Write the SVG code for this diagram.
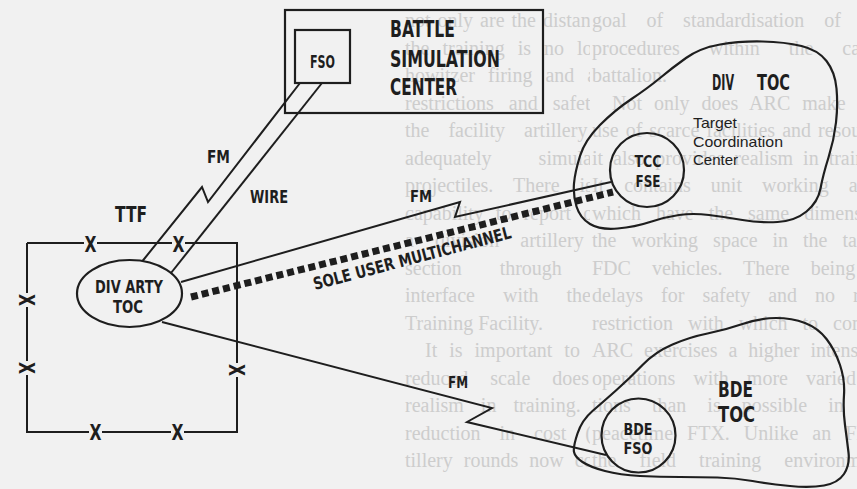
<svg xmlns="http://www.w3.org/2000/svg" width="857" height="489" viewBox="0 0 857 489">
<style>
.bg{fill:#f1f1f1}
.g{font-family:"Liberation Serif","DejaVu Serif",serif;font-size:20px;fill:#cdcdcd}
.ln{fill:none;stroke:#1e1e1e;stroke-width:2;stroke-linejoin:miter}
.sh{fill:none;stroke:#1e1e1e;stroke-width:2.2}
.lb{font-family:"Liberation Sans Narrow","DejaVu Sans Condensed","Liberation Sans",Arial,sans-serif;font-weight:bold;fill:#1e1e1e}
.rg{font-family:"Liberation Sans",Arial,sans-serif;fill:#1e1e1e}
.m{text-anchor:middle}
</style>
<defs>
<clipPath id="cM"><rect x="395" y="0" width="195" height="489"/></clipPath>
</defs>
<rect class="bg" x="0" y="0" width="857" height="489"/>

<g id="page-text-a" class="g" clip-path="url(#cM)">
<text x="405" y="27" word-spacing="2">not only are the distances reduced, but</text>
<text x="405" y="54.5" word-spacing="8">the training is no longer tied to</text>
<text x="405" y="82" word-spacing="8">howitzer firing and attendant range</text>
<text x="405" y="109.5" word-spacing="10">restrictions and safety delays. In</text>
<text x="405" y="137" word-spacing="14">the facility artillery simulators</text>
<text x="405" y="164.5" word-spacing="42">adequately simulate enemy</text>
<text x="405" y="192" word-spacing="15">projectiles. There is also the</text>
<text x="405" y="219.5" word-spacing="7">capability to report observations to</text>
<text x="405" y="247" word-spacing="16">a division artillery counterfire</text>
<text x="405" y="274.5" word-spacing="33">section through a radar</text>
<text x="405" y="302" word-spacing="23">interface with the TACFIRE</text>
<text x="405" y="329.5">Training Facility.</text>
<text x="425" y="357" word-spacing="7">It is important to note that the</text>
<text x="405" y="384.5" word-spacing="17">reduced scale does not reduce</text>
<text x="405" y="412" word-spacing="12">realism in training. There is a</text>
<text x="405" y="439.5" word-spacing="14">reduction in cost (full-scale ar-</text>
<text x="405" y="467" word-spacing="6">tillery rounds now cost about $1,000</text>
</g>

<g id="page-text-b" class="g">
<text x="592" y="27" word-spacing="15">goal of standardisation of FDC</text>
<text x="592" y="54.5" word-spacing="24">procedures within the cannon</text>
<text x="592" y="82">battalion.</text>
<text x="612" y="109.5" word-spacing="7">Not only does ARC make the best</text>
<text x="592" y="137" word-spacing="2">use of scarce facilities and resources,</text>
<text x="592" y="164.5" word-spacing="5">it also provides realism in training.</text>
<text x="592" y="192" word-spacing="15">It contains unit working areas</text>
<text x="592" y="219.5" word-spacing="10">which have the same dimensions as</text>
<text x="592" y="247" word-spacing="10">the working space in the tactical</text>
<text x="592" y="274.5" word-spacing="16">FDC vehicles. There being no</text>
<text x="592" y="302" word-spacing="13">delays for safety and no range</text>
<text x="592" y="329.5" word-spacing="10">restriction with which to contend,</text>
<text x="592" y="357" word-spacing="6">ARC exercises a higher intensity of</text>
<text x="592" y="384.5" word-spacing="13">operations with more varied mun-</text>
<text x="592" y="412" word-spacing="16">tions than is possible in a</text>
<text x="592" y="439.5" word-spacing="9">peacetime FTX. Unlike an FDC in</text>
<text x="592" y="467" word-spacing="18">the field training environment,</text>
</g>

<g id="connectors">
<polyline class="ln" points="300,83 208,202 202,187 142.5,261"/>
<line class="ln" x1="322" y1="83" x2="171" y2="273"/>
<polyline class="ln" points="181,282 460,202 455,217 611,182"/>
<line x1="191" y1="297" x2="613" y2="192" stroke="#1e1e1e" stroke-width="7" stroke-dasharray="7 4"/>
<polyline class="ln" points="162,322 492,408 467,422 606,455"/>
<text class="lb" x="207" y="163" font-size="17" textLength="23" lengthAdjust="spacingAndGlyphs">FM</text>
<text class="lb" x="250" y="203" font-size="17" textLength="38" lengthAdjust="spacingAndGlyphs">WIRE</text>
<text class="lb" x="410" y="202" font-size="15" textLength="22" lengthAdjust="spacingAndGlyphs">FM</text>
<text class="lb" transform="translate(315,290) rotate(-14.8)" font-size="17" textLength="204" lengthAdjust="spacingAndGlyphs">SOLE USER MULTICHANNEL</text>
<text class="lb" x="448" y="388" font-size="15" textLength="20" lengthAdjust="spacingAndGlyphs">FM</text>
</g>

<g id="battle-simulation-center">
<rect class="sh" x="285" y="10" width="258" height="103" stroke-width="2.5"/>
<text class="lb" x="390" y="37" font-size="23" textLength="65" lengthAdjust="spacingAndGlyphs">BATTLE</text>
<text class="lb" x="390" y="67" font-size="23" textLength="110" lengthAdjust="spacingAndGlyphs">SIMULATION</text>
<text class="lb" x="390" y="95" font-size="23" textLength="67" lengthAdjust="spacingAndGlyphs">CENTER</text>
</g>

<g id="fso">
<rect class="sh" x="295" y="30" width="55" height="53"/>
<text class="lb m" x="322.5" y="68" font-size="17" textLength="25" lengthAdjust="spacingAndGlyphs">FSO</text>
</g>

<g id="ttf">
<text class="lb" x="115" y="222" font-size="21" textLength="32" lengthAdjust="spacingAndGlyphs">TTF</text>
<path class="ln" d="M27,243 H84 M97,243 H172 M185,243 H237 V363 M237,377 V432 H184 M171,432 H102 M89,432 H27 V375 M27,361 V307 M27,293 V243"/>
<g class="lb" font-size="22">
<text class="m" x="90.5" y="252" textLength="12" lengthAdjust="spacingAndGlyphs">X</text>
<text class="m" x="178.5" y="252" textLength="12" lengthAdjust="spacingAndGlyphs">X</text>
<text class="m" x="95.5" y="440" textLength="12" lengthAdjust="spacingAndGlyphs">X</text>
<text class="m" x="177.5" y="440" textLength="12" lengthAdjust="spacingAndGlyphs">X</text>
<text class="m" transform="translate(27,300) rotate(90)" x="0" y="8" textLength="12" lengthAdjust="spacingAndGlyphs">X</text>
<text class="m" transform="translate(27,368) rotate(90)" x="0" y="8" textLength="12" lengthAdjust="spacingAndGlyphs">X</text>
<text class="m" transform="translate(237,370) rotate(90)" x="0" y="8" textLength="12" lengthAdjust="spacingAndGlyphs">X</text>
</g>
</g>

<g id="div-arty-toc">
<ellipse class="sh" cx="129.5" cy="293.5" rx="52.5" ry="33.5"/>
<text class="lb m" x="129" y="293" font-size="17" textLength="68" lengthAdjust="spacingAndGlyphs">DIV ARTY</text>
<text class="lb m" x="128" y="313" font-size="17" textLength="30" lengthAdjust="spacingAndGlyphs">TOC</text>
</g>

<g id="div-toc">
<path class="sh" d="M580,156 Q585,140 600,125 Q615,110 631.5,99 Q648,88 660,78 Q672,68 686,58 Q700,48 720,44.5 Q740,41 762.5,41.5 Q785,42 801.5,46 Q818,50 826.5,61 Q835,72 836.5,88.5 Q838,105 836,122.5 Q834,140 828.5,157.5 Q823,175 820.5,188.5 Q818,202 806.5,211.5 Q795,221 777.5,222 Q760,223 742.5,220 Q725,217 709,215 Q693,213 679,215 Q665,217 650,222 Q635,227 617.5,228.5 Q600,230 590,224 Q580,218 576.5,206.5 Q573,195 574,183.5 Q575,172 580,156 Z"/>
<text class="lb" y="90" font-size="21"><tspan x="712" textLength="26" lengthAdjust="spacingAndGlyphs">DIV </tspan><tspan x="757" textLength="33" lengthAdjust="spacingAndGlyphs">TOC</tspan></text>
<text class="rg" x="693" y="128" font-size="14.5" textLength="44" lengthAdjust="spacingAndGlyphs">Target</text>
<text class="rg" x="693" y="147" font-size="14.5" textLength="90" lengthAdjust="spacingAndGlyphs">Coordination</text>
<text class="rg" x="693" y="165" font-size="14.5" textLength="45" lengthAdjust="spacingAndGlyphs">Center</text>
</g>

<g id="tcc-fse">
<circle class="sh" cx="647" cy="170" r="37"/>
<text class="lb m" x="648" y="167" font-size="16" textLength="27" lengthAdjust="spacingAndGlyphs">TCC</text>
<text class="lb m" x="648" y="187" font-size="16" textLength="25" lengthAdjust="spacingAndGlyphs">FSE</text>
</g>

<g id="bde-toc">
<path class="sh" d="M577.5,433.5 Q582,420 592.5,411 Q603,402 616.5,390 Q630,378 642.5,365 Q655,352 672.5,344.5 Q690,337 707.5,333.5 Q725,330 742.5,324 Q760,318 776,318 Q792,318 805,323 Q818,328 826.5,339 Q835,350 840,365 Q845,380 844,395 Q843,410 845,425 Q847,440 848.5,452.5 Q850,465 844,474 Q838,483 824,485.5 Q810,488 790,486 Q770,484 752.5,481 Q735,478 717.5,477.5 Q700,477 680,477 Q660,477 640,476 Q620,475 605,471 Q590,467 582.5,462 Q575,457 574,452 Q573,447 577.5,433.5 Z"/>
<text class="lb" x="718" y="397" font-size="21" textLength="35" lengthAdjust="spacingAndGlyphs">BDE</text>
<text class="lb" x="718" y="422" font-size="21" textLength="37" lengthAdjust="spacingAndGlyphs">TOC</text>
</g>

<g id="bde-fso">
<circle class="sh" cx="638.5" cy="435.5" r="37"/>
<text class="lb m" x="638" y="435" font-size="16" textLength="29" lengthAdjust="spacingAndGlyphs">BDE</text>
<text class="lb m" x="638" y="454" font-size="16" textLength="29" lengthAdjust="spacingAndGlyphs">FSO</text>
</g>
</svg>
